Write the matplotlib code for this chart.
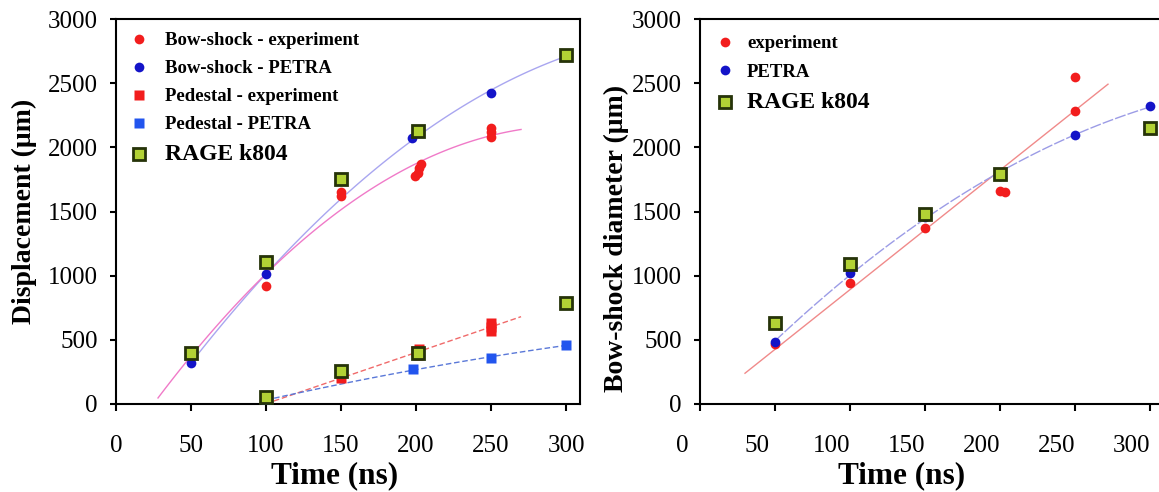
import numpy as np
import matplotlib
matplotlib.use("Agg")
import matplotlib.pyplot as plt
import matplotlib.transforms as mtransforms
from matplotlib.font_manager import FontProperties

plt.rcParams['font.family'] = ['Liberation Serif', 'DejaVu Serif']

# ---------------- Data: left panel (Displacement) ----------------
bow_exp_t = [50, 100, 150, 150, 199, 201, 202, 203, 250, 250, 250]
bow_exp_v = [380, 920, 1650, 1620, 1780, 1800, 1840, 1870, 2080, 2120, 2150]
bow_petra_t = [50, 100, 197, 250, 300]
bow_petra_v = [320, 1010, 2070, 2420, 2720]
ped_exp_t = [150, 200, 201, 202, 250, 250, 250]
ped_exp_v = [200, 410, 380, 430, 570, 600, 630]
ped_petra_t = [100, 198, 250, 300]
ped_petra_v = [30, 270, 360, 460]
rage_left_t = [50, 100, 150, 201, 300, 100, 150, 201, 300]
rage_left_v = [400, 1110, 1750, 2130, 2720, 55, 260, 400, 790]

# ---------------- Data: right panel (Bow-shock diameter) ----------------
diam_exp_t = [50, 100, 150, 200, 203, 250, 250]
diam_exp_v = [470, 940, 1370, 1660, 1650, 2280, 2550]
diam_petra_t = [50, 100, 150, 200, 250, 300]
diam_petra_v = [480, 1020, 1460, 1780, 2100, 2320]
rage_right_t = [50, 100, 150, 200, 300]
rage_right_v = [630, 1090, 1480, 1790, 2150]

x_ticks = [0, 50, 100, 150, 200, 250, 300]
y_ticks = [0, 500, 1000, 1500, 2000, 2500, 3000]

RED = '#f21d1d'
BLUE = '#1414c8'
PBLUE = '#2255ee'
GFILL = '#b2d235'
GEDGE = '#263309'


def fit_line(ax, t, v, deg, t0, t1, **kw):
    c = np.polyfit(t, v, deg)
    tt = np.linspace(t0, t1, 100)
    ax.plot(tt, np.polyval(c, tt), **kw)


fig = plt.figure(figsize=(11.59, 4.92), dpi=100)
axL = fig.add_axes([116/1159, 1-404/492, 464/1159, 385/492])
axR = fig.add_axes([700/1159, 1-404/492, 459/1159, 385/492])

# ---- left panel ----
fit_line(axL, bow_petra_t, bow_petra_v, 2, 50, 300, color='#a9a6f0', lw=1.0, zorder=1)
fit_line(axL, bow_exp_t, bow_exp_v, 2, 28, 270, color='#f07ac8', lw=1.0, zorder=1)
fit_line(axL, ped_exp_t, ped_exp_v, 1, 100, 270, color='#f06a6a', lw=1.0, ls=(0, (4, 2)), zorder=1)
fit_line(axL, ped_petra_t, ped_petra_v, 2, 100, 300, color='#5a78d8', lw=1.0, ls=(0, (4, 2)), zorder=1)

axL.plot(bow_exp_t, bow_exp_v, 'o', color=RED, ms=7, mec='none', label='Bow-shock - experiment', zorder=3)
axL.plot(bow_petra_t, bow_petra_v, 'o', color=BLUE, ms=7, mec='none', label='Bow-shock - PETRA', zorder=3)
axL.plot(ped_exp_t, ped_exp_v, 's', color=RED, ms=6.5, mec='none', label='Pedestal - experiment', zorder=3)
axL.plot(ped_petra_t, ped_petra_v, 's', color=PBLUE, ms=6.5, mec='none', label='Pedestal - PETRA', zorder=3)
axL.plot(rage_left_t, rage_left_v, 's', color=GFILL, ms=9, mec=GEDGE, mew=2, label='RAGE k804', zorder=4)

# ---- right panel ----
fit_line(axR, diam_exp_t, diam_exp_v, 1, 30, 272, color='#f08a8a', lw=1.0, zorder=1)
fit_line(axR, diam_petra_t, diam_petra_v, 2, 50, 300, color='#9c9ce6', lw=1.0, ls=(0, (8, 1.5)), zorder=1)

axR.plot(diam_exp_t, diam_exp_v, 'o', color=RED, ms=7, mec='none', label='experiment', zorder=3)
axR.plot(diam_petra_t, diam_petra_v, 'o', color=BLUE, ms=7, mec='none', label='PETRA', zorder=3)
axR.plot(rage_right_t, rage_right_v, 's', color=GFILL, ms=9, mec=GEDGE, mew=2, label='RAGE k804', zorder=4)

bold_leg = FontProperties(family='Liberation Serif', weight='bold', size=13.5)

for ax, xmax, ylabel in [(axL, 309.3, 'Displacement (\u03bcm)'),
                         (axR, 306, 'Bow-shock diameter (\u03bcm)')]:
    ax.set_xlim(0, xmax)
    ax.set_ylim(0, 3000)
    ax.set_xticks(x_ticks)
    ax.set_yticks(y_ticks)
    ax.tick_params(axis='x', direction='out', length=5, width=1.5, pad=17, labelsize=18)
    ax.tick_params(axis='y', direction='out', length=4, width=1.5, pad=9, labelsize=18)
    for s in ax.spines.values():
        s.set_linewidth(1.5)
    ax.set_xlabel('Time (ns)', fontsize=22.5, fontweight='bold', va='center')
    ax.set_ylabel(ylabel, fontsize=20, fontweight='bold', labelpad=8)

axR.spines['right'].set_visible(False)

axL.xaxis.set_label_coords(0.472, -0.187)
axR.xaxis.set_label_coords(0.44, -0.187)
axR.yaxis.set_label_coords(-0.155, 0.43)

# right panel tick labels are shifted left in the reference
shift = mtransforms.ScaledTranslation(-18/100, 0, fig.dpi_scale_trans)
for lab in axR.get_xticklabels():
    lab.set_transform(lab.get_transform() + shift)

legL = axL.legend(loc='upper left', bbox_to_anchor=(0.0, 1.0), frameon=False, prop=bold_leg,
                  handlelength=1.0, handletextpad=0.9, labelspacing=0.58, borderaxespad=0.3)
legL.get_texts()[-1].set_fontsize(17)
legR = axR.legend(loc='upper left', bbox_to_anchor=(0.0, 1.0), frameon=False, prop=bold_leg,
                  handlelength=1.0, handletextpad=0.65, labelspacing=0.62, borderaxespad=0.45)
legR.get_texts()[-1].set_fontsize(17)

fig.savefig('out.png', dpi=100)
